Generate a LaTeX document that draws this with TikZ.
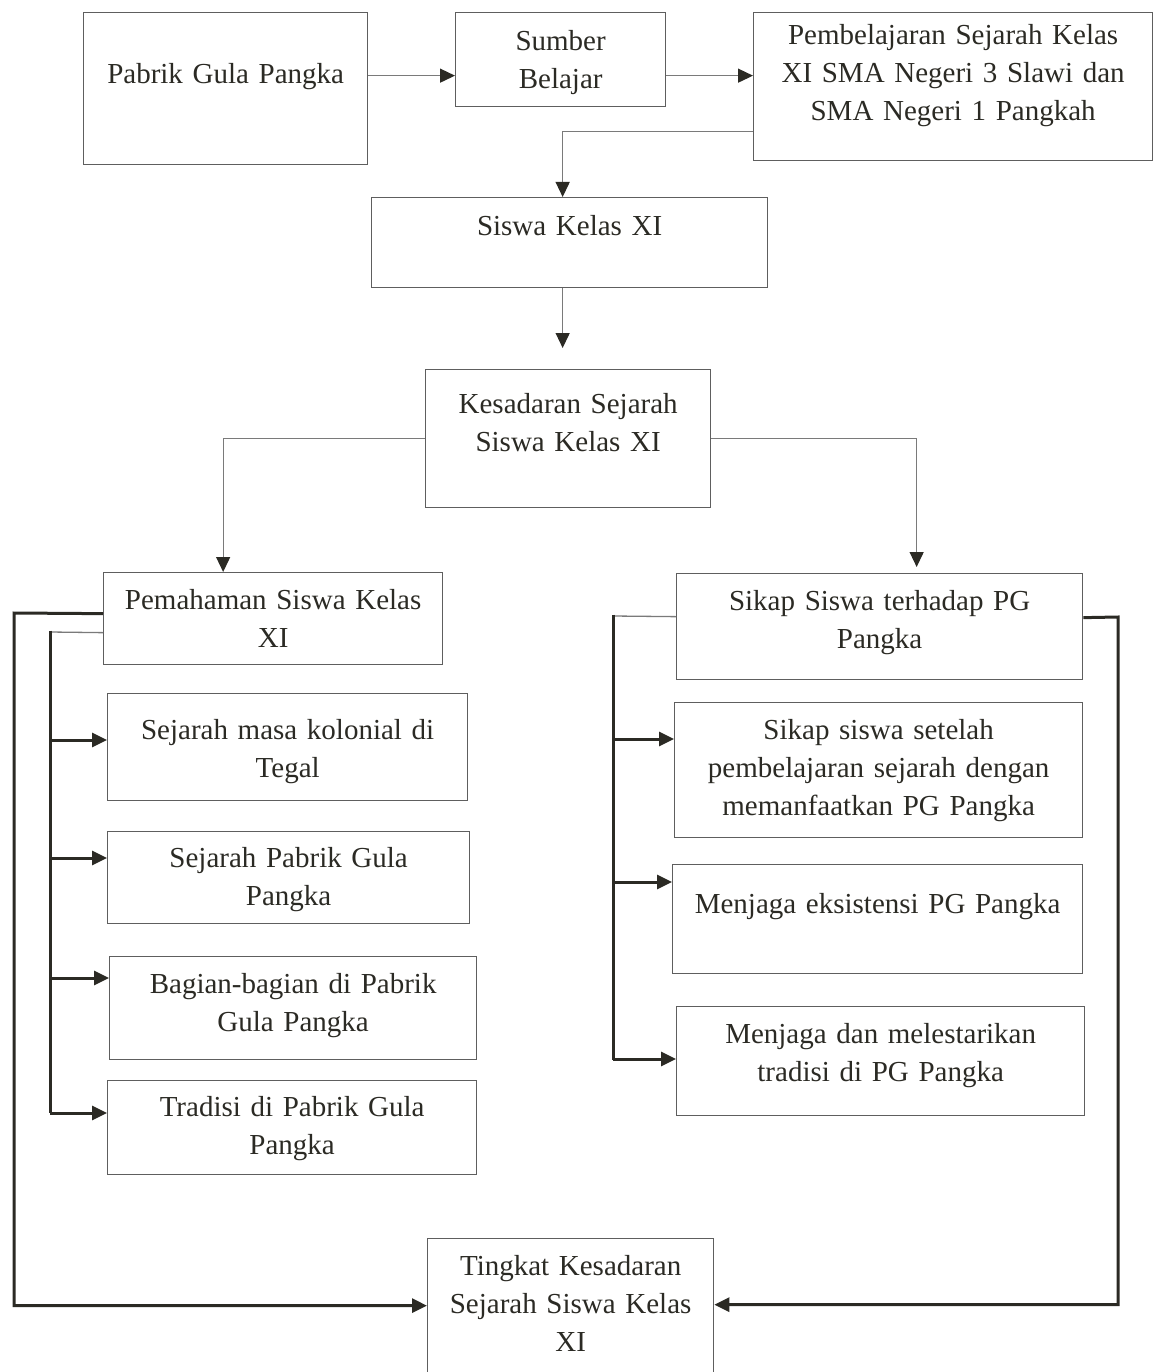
\documentclass[tikz,border=0pt]{standalone}
\usepackage{fontspec}
\setmainfont{Liberation Serif}
\usepackage{tikz}
\usetikzlibrary{arrows.meta, calc}

\definecolor{tinta}{HTML}{2B2A24}
\definecolor{garis}{HTML}{5E5E5E}
\definecolor{abu}{HTML}{7A7A7A}

\begin{document}
\begin{tikzpicture}[x=1pt, y=-1pt,
     kotak/.style={draw=garis,line width=1.3pt,anchor=north west,align=center,
                   inner sep=0pt,text=tinta,font=\fontsize{29}{38}\selectfont},
     tipis/.style={draw=abu,line width=1.3pt},
     tebal/.style={draw=tinta,line width=3pt},
     panah/.style={-{Triangle[length=15pt,width=14pt,color=tinta]}}
     ]
%Page frame (the last box runs off the bottom)
\useasboundingbox (0,0) rectangle (1153,1372);
\clip (0,0) rectangle (1153,1372);

%Boxes: name / left / top / width / height above first baseline / depth below it / text
\foreach \nama/\x/\y/\w/\h/\d/\isi in {
   pabrik/83/12/284/71/81/{Pabrik Gula Pangka},
   sumber/455/12/210/38/56/{Sumber\\Belajar},
   belajar/753/12/399/32/116/{Pembelajaran Sejarah Kelas\\XI SMA Negeri 3 Slawi dan\\SMA Negeri 1 Pangkah},
   siswa/371/197/396/38/52/{Siswa Kelas XI},
   sadar/425/369/285/44/94/{Kesadaran Sejarah\\Siswa Kelas XI},
   paham/103/572/339/37/55/{Pemahaman Siswa Kelas\\XI},
   sikap/676/573/406/37/69/{Sikap Siswa terhadap PG\\Pangka},
   kolonial/107/693/360/46/61/{Sejarah masa kolonial di\\Tegal},
   sejpg/107/831/362/36/56/{Sejarah Pabrik Gula\\Pangka},
   bagian/109/956/367/37/66/{Bagian-bagian di Pabrik\\Gula Pangka},
   tradisi/107/1080/369/36/58/{Tradisi di Pabrik Gula\\Pangka},
   setelah/674/702/408/37/98/{Sikap siswa setelah\\pembelajaran sejarah dengan\\memanfaatkan PG Pangka},
   eksis/672/864/410/49/60/{Menjaga eksistensi PG Pangka},
   lestari/676/1006/408/37/72/{Menjaga dan melestarikan\\tradisi di PG Pangka},
   tingkat/427/1238/286/37/115/{Tingkat Kesadaran\\Sejarah Siswa Kelas\\XI}}
   {
\node[kotak,text width=\w pt,text height=\h pt,text depth=\d pt] (\nama) at (\x,\y) {\isi};
   }

%Top row and the way down
\draw[tipis,panah] ([yshift=13pt]pabrik.east) -- ([yshift=-16pt]sumber.west);
\draw[tipis,panah] ([yshift=-16pt]sumber.east) -- ([yshift=11pt]belajar.west);
\draw[tipis,panah] ([yshift=-45pt]belajar.west) -| ([xshift=-7pt]siswa.north);
\draw[tipis,panah,shorten >=21pt] ([xshift=-7pt]siswa.south) -- ([xshift=-7pt]siswa.south |- sadar.north);

%Split into the two branches
\draw[tipis,panah] (sadar.west) -| ([xshift=-50pt]paham.north);
\draw[tipis,panah,shorten >=6pt] (sadar.east) -| ([xshift=37pt]sikap.north);

%Left branch
\coordinate (kiriA) at (50,632);
\coordinate (kiriB) at (50,1113);
\draw[tipis] ([yshift=-14pt]paham.west) -- (kiriA);
\draw[tebal] ([yshift=1.5pt]kiriA) -- (kiriB);
\foreach \b/\yy in {kolonial/740,sejpg/858,bagian/978,tradisi/1113}
   {
\draw[tebal,panah] (50,\yy) -- (\b.west |- 50,\yy);
   }

%Right branch
\coordinate (kananA) at (613,616);
\coordinate (kananB) at (613,1060);
\draw[tipis] ([yshift=10pt]sikap.west) -- (kananA);
\draw[tebal] ([yshift=1.5pt]kananA) -- (kananB);
\foreach \b/\yy in {setelah/739,eksis/882,lestari/1059}
   {
\draw[tebal,panah] (613,\yy) -- (\b.west |- 613,\yy);
   }

%Both branches back to the result
\coordinate (luarKiri) at (14,613);
\coordinate (luarKanan) at (1118,617);
\draw[tebal,panah] ([yshift=5pt]paham.west) -- (luarKiri) |- ([yshift=9pt]tingkat.west);
\draw[tebal,panah] ([yshift=9pt]sikap.east) -- (luarKanan) |- ([yshift=10pt]tingkat.east);
\end{tikzpicture}
\end{document}
